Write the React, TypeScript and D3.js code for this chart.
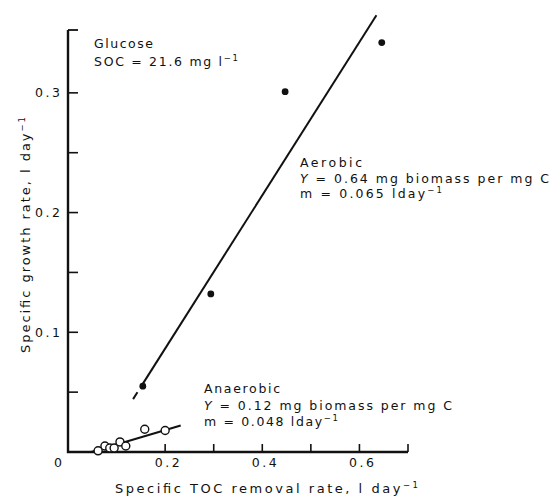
import React from "react";
import * as d3 from "d3";

// Aerobic runs (filled points)
const aerobicRemoval = [0.154, 0.294, 0.447, 0.646];
const aerobicGrowth = [0.055, 0.132, 0.301, 0.342];

// Anaerobic runs (open points)
const anaerobicRemoval = [0.062, 0.076, 0.086, 0.095, 0.107, 0.119, 0.158, 0.2];
const anaerobicGrowth = [0.001, 0.005, 0.0033, 0.0033, 0.0084, 0.005, 0.019, 0.018];

// Fitted lines: growth = Y * (removal - m)
const aerobicY = 0.64;
const aerobicM = 0.065;
const anaerobicY = 0.12;
const anaerobicM = 0.048;

const xTickValues = [0.1, 0.2, 0.3, 0.4, 0.5, 0.6, 0.7];
const xTickLabels = ["0.2", "0.4", "0.6"];
const yTickValues = [0.05, 0.1, 0.15, 0.2, 0.25, 0.3];
const yTickLabels = ["0.1", "0.2", "0.3"];

const W = 553;
const H = 497;
const FONT = "'DejaVu Sans', sans-serif";
const INK = "#111";

export default function App() {
  const x = d3.scaleLinear().domain([0, 0.7]).range([68, 408]);
  const y = d3.scaleLinear().domain([0, 0.3525]).range([452, 30]);

  const fit = (Y: number, m: number) => (q: number) => Y * (q - m);
  const aer = fit(aerobicY, aerobicM);
  const ana = fit(anaerobicY, anaerobicM);

  // straight segment of a fitted line between two removal rates
  const seg = (f: (q: number) => number, q0: number, q1: number) =>
    d3
      .line<number>()
      .x((q) => x(q))
      .y((q) => y(f(q)))([q0, q1]) as string;

  const textStyle = { fontFamily: FONT, fontSize: 12.5, fill: INK } as const;
  const sup = (s: string) => (
    <tspan baselineShift="super" fontSize={8.5}>
      {s}
    </tspan>
  );

  return (
    <svg
      width={W}
      height={H}
      style={{ position: "absolute", left: 0, top: 0, background: "#fff" }}
    >
      <rect width={W} height={H} fill="#fff" />

      {/* axes */}
      <path
        d={`M${x(0)},${y(0.3525)}V${y(0)}H${x(0.7)}`}
        fill="none"
        stroke={INK}
        strokeWidth={2.4}
      />
      {/* top cap of the y axis */}
      <line x1={x(0)} x2={x(0) + 10} y1={y(0.3525)} y2={y(0.3525)} stroke={INK} strokeWidth={1.8} />
      {yTickValues.map((v) => (
        <line key={`yt${v}`} x1={x(0)} x2={x(0) + 10} y1={y(v)} y2={y(v)} stroke={INK} strokeWidth={1.6} />
      ))}
      {xTickValues.map((v) => (
        <line key={`xt${v}`} x1={x(v)} x2={x(v)} y1={y(0)} y2={y(0) - 8} stroke={INK} strokeWidth={1.6} />
      ))}

      {/* tick labels */}
      {yTickLabels.map((t) => (
        <text
          key={`yl${t}`}
          x={60}
          y={y(+t) + 4.5}
          textAnchor="end"
          textLength={25}
          lengthAdjust="spacing"
          {...textStyle}
        >
          {t}
        </text>
      ))}
      <text x={58} y={467} textAnchor="middle" {...textStyle}>
        0
      </text>
      {xTickLabels.map((t) => (
        <text
          key={`xl${t}`}
          x={x(+t) + 2}
          y={467}
          textAnchor="middle"
          textLength={25}
          lengthAdjust="spacing"
          {...textStyle}
        >
          {t}
        </text>
      ))}

      {/* axis titles */}
      <text x={115} y={493} textLength={303} lengthAdjust="spacing" {...textStyle} fontSize={13}>
        Specific TOC removal rate, l day{sup("−1")}
      </text>
      <text
        transform="translate(30,353) rotate(-90)"
        textLength={236}
        lengthAdjust="spacing"
        {...textStyle}
        fontSize={13}
      >
        Specific growth rate, l day{sup("−1")}
      </text>

      {/* fitted lines */}
      <path d={seg(aer, 0.134, 0.143)} stroke={INK} strokeWidth={2} fill="none" />
      <path d={seg(aer, 0.151, 0.635)} stroke={INK} strokeWidth={2} fill="none" />
      <path d={seg(ana, anaerobicM, 0.232)} stroke={INK} strokeWidth={2} fill="none" />

      {/* points */}
      {aerobicRemoval.map((q, i) => (
        <circle key={`a${i}`} cx={x(q)} cy={y(aerobicGrowth[i])} r={3.4} fill={INK} />
      ))}
      {anaerobicRemoval.map((q, i) => (
        <circle
          key={`n${i}`}
          cx={x(q)}
          cy={y(anaerobicGrowth[i])}
          r={4}
          fill="#fff"
          stroke={INK}
          strokeWidth={1.4}
        />
      ))}

      {/* annotations */}
      <text x={94} y={48} textLength={59} lengthAdjust="spacing" {...textStyle}>
        Glucose
      </text>
      <text x={94} y={66} textLength={144} lengthAdjust="spacing" {...textStyle}>
        SOC = 21.6 mg l{sup("−1")}
      </text>

      <text x={300} y={167} textLength={62} lengthAdjust="spacing" {...textStyle}>
        Aerobic
      </text>
      <text x={300} y={183} textLength={249} lengthAdjust="spacing" {...textStyle}>
        <tspan fontStyle="italic">Y</tspan> = {aerobicY.toFixed(2)} mg biomass per mg C
      </text>
      <text x={300} y={198} textLength={142} lengthAdjust="spacing" {...textStyle}>
        m = {aerobicM.toFixed(3)} lday{sup("−1")}
      </text>

      <text x={204} y={393} textLength={76} lengthAdjust="spacing" {...textStyle}>
        Anaerobic
      </text>
      <text x={204} y={410} textLength={248} lengthAdjust="spacing" {...textStyle}>
        <tspan fontStyle="italic">Y</tspan> = {anaerobicY.toFixed(2)} mg biomass per mg C
      </text>
      <text x={204} y={426} textLength={134} lengthAdjust="spacing" {...textStyle}>
        m = {anaerobicM.toFixed(3)} lday{sup("−1")}
      </text>
    </svg>
  );
}
